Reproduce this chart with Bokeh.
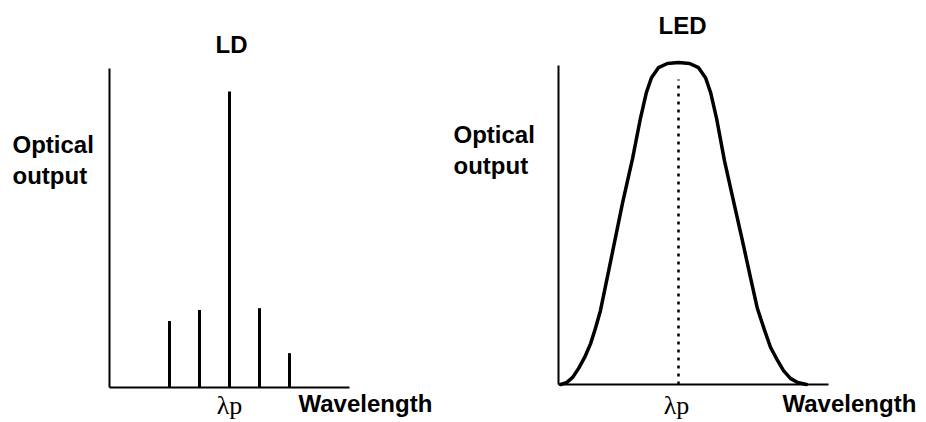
from bokeh.plotting import figure
from bokeh.models import Range1d, Label, FixedTicker
from bokeh.layouts import row
from bokeh.embed import file_html
from bokeh.resources import INLINE

# ---------------- data ----------------
# LD: longitudinal modes (relative to the peak mode) and relative optical output
ld_modes = [-2, -1, 0, 1, 2]
ld_intensity = [0.225, 0.262, 1.0, 0.268, 0.116]

# LED: wavelength offset from the peak (arb. units) and relative optical output
led_wavelength = [-3.93, -3.73, -3.53, -3.33, -3.13, -2.93, -2.77, -2.60, -2.27,
                  -1.87, -1.53, -1.27, -1.07, -0.90, -0.67, -0.37, 0.0,
                  0.37, 0.67, 0.90, 1.07, 1.27, 1.53, 1.83, 2.13, 2.40, 2.63,
                  2.87, 3.07, 3.30, 3.50, 3.73, 3.97, 4.27]
led_output = [0.0, 0.006, 0.022, 0.050, 0.084, 0.127, 0.174, 0.230, 0.379,
              0.562, 0.702, 0.826, 0.907, 0.953, 0.984, 0.997, 1.0,
              0.997, 0.984, 0.953, 0.907, 0.826, 0.696, 0.571, 0.447, 0.332, 0.236,
              0.168, 0.115, 0.075, 0.043, 0.019, 0.006, 0.0]
led_peak = 0.0
led_peak_marker_top = 0.947

panel_titles = ["LD", "LED"]
y_label_lines = ["Optical", "output"]
x_label = "Wavelength"
peak_label = "\u03bbp"

SANS = "Liberation Sans"
SERIF = "Liberation Serif"


def panel(xr, yr, x_bounds, y_bounds, width):
    p = figure(width=width, height=422, x_range=Range1d(*xr), y_range=Range1d(*yr),
               output_backend="svg", toolbar_location=None, min_border=0)
    p.outline_line_color = None
    p.grid.visible = False
    p.background_fill_color = "white"
    p.border_fill_color = "white"
    for ax in (p.xaxis[0], p.yaxis[0]):
        ax.ticker = FixedTicker(ticks=[])
        ax.major_tick_line_color = None
        ax.minor_tick_line_color = None
        ax.major_tick_out = 0
        ax.major_tick_in = 0
        ax.minor_tick_out = 0
        ax.minor_tick_in = 0
        ax.major_label_text_font_size = "0px"
        ax.major_label_standoff = 0
        ax.axis_line_color = "black"
        ax.axis_line_width = 2
    p.xaxis[0].fixed_location = 0
    p.xaxis[0].bounds = x_bounds
    p.yaxis[0].fixed_location = x_bounds[0]
    p.yaxis[0].bounds = y_bounds
    return p


def add_text(p, x, y, text, align="left", font=SANS, style="bold", size="24px"):
    p.add_layout(Label(x=x, y=y, text=text, text_align=align,
                       text_baseline="alphabetic", text_font=font,
                       text_font_style=style, text_font_size=size,
                       text_color="black"))


# ---------------- LD panel (canvas x 0..443) ----------------
p1 = panel((-7.6333, 7.1333), (-0.11824, 1.30743), (-4.0, 4.0), (0, 1.0777), 443)
p1.segment(x0=ld_modes, y0=[0] * len(ld_modes), x1=ld_modes, y1=ld_intensity,
           line_color="black", line_width=3, line_cap="butt")
add_text(p1, 0.067, 1.1588, panel_titles[0], align="center")
add_text(p1, -7.233, 0.8209, y_label_lines[0])
add_text(p1, -7.233, 0.7162, y_label_lines[1])
add_text(p1, 0.0, -0.0608, peak_label, align="center", font=SERIF, style="normal", size="26px")
add_text(p1, 2.3, -0.0541, x_label)

# ---------------- LED panel (canvas x 443..926) ----------------
p2 = panel((-7.8333, 8.2667), (-0.11801, 1.19255), (-4.0, 5.0), (0, 0.9907), 483)
p2.line(led_wavelength, led_output, line_color="black", line_width=3.5,
        line_join="round", line_cap="round")
p2.segment(x0=[led_peak], y0=[0], x1=[led_peak], y1=[led_peak_marker_top],
           line_color="black", line_width=2.5, line_dash="3 5")
add_text(p2, 0.133, 1.1149, panel_titles[1], align="center")
add_text(p2, -7.5, 0.7764, y_label_lines[0])
add_text(p2, -7.5, 0.6801, y_label_lines[1])
add_text(p2, -0.067, -0.0652, peak_label, align="center", font=SERIF, style="normal", size="26px")
add_text(p2, 3.467, -0.0590, x_label)

layout = row(p1, p2)
open("out.html", "w").write(file_html(layout, INLINE))
